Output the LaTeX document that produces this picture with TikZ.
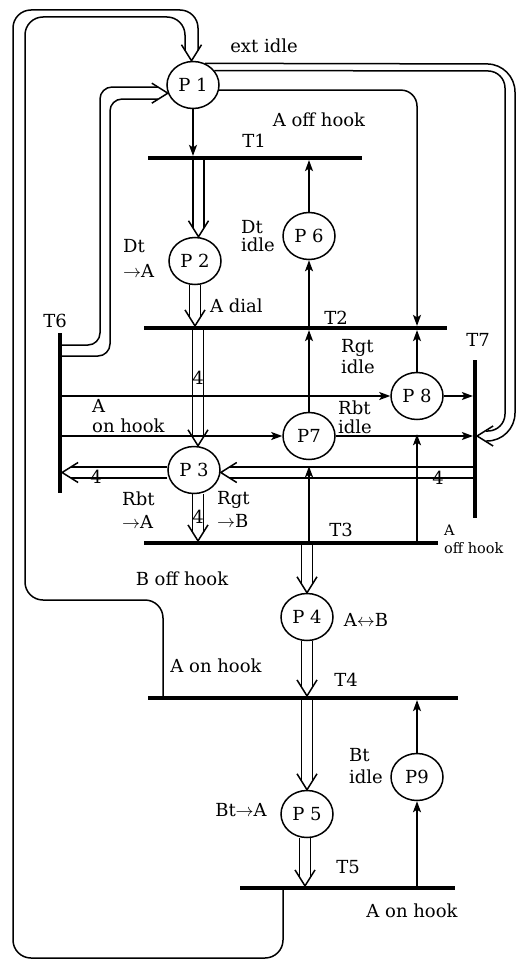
\documentclass[tikz,border=0pt]{standalone}
\usepackage{fix-cm}
\usepackage{fontspec}
\setmainfont{DejaVu Serif}
\usetikzlibrary{arrows.meta,shapes.geometric}
\newcommand\lblfont{\fontsize{18}{20}\selectfont}
\newcommand\smlfont{\fontsize{14.5}{18}\selectfont}
\newcommand\dbdown[2]{%
  \draw[ln] ([xshift=-5.5pt]#1) -- ([xshift=-5.5pt,yshift=9pt]#2);
  \draw[ln] ([xshift=5.5pt]#1) -- ([xshift=5.5pt,yshift=9pt]#2);
  \pic[rotate=-90] at (#2) {vhead};}
\newcommand\dbleft[2]{%
  \draw[ln] ([yshift=5.5pt]#1) -- ([yshift=5.5pt,xshift=9pt]#2);
  \draw[ln] ([yshift=-5.5pt]#1) -- ([yshift=-5.5pt,xshift=9pt]#2);
  \pic[rotate=180] at (#2) {vhead};}
\begin{document}
\begin{tikzpicture}[x=1pt,y=-1pt,
  ln/.style={line width=1.5pt},
  arr/.style={line width=1.5pt,-{Stealth[length=11pt,width=8pt,inset=2.5pt]}},
  place/.style={ellipse,draw,line width=1.5pt,minimum width=52pt,minimum height=47pt,inner sep=0pt,font=\lblfont},
  hbar/.style={fill=black,inner sep=0pt,minimum height=3.8pt},
  vbar/.style={fill=black,inner sep=0pt,minimum width=3.8pt},
  lbl/.style={inner sep=0pt,font=\lblfont},
  lblw/.style={lbl,anchor=west},
  twol/.style={inner sep=0pt,anchor=west,align=left,font=\fontsize{18}{#1}\selectfont},
  smalllbl/.style={inner sep=0pt,anchor=west,align=left,font=\smlfont},
  vhead/.pic={\draw[line width=1.5pt] (-16pt,10pt) -- (0pt,0pt) -- (-16pt,-10pt);}
]
\useasboundingbox (0,0) rectangle (522,960);

% places
\node[place] (P1) at (193,85) {P 1};
\node[place] (P2) at (195,261) {P 2};
\node[place] (P6) at (309,236) {P 6};
\node[place] (P8) at (417,396) {P 8};
\node[place] (P7) at (309,436) {P7};
\node[place] (P3) at (194,470) {P 3};
\node[place] (P4) at (307,617) {P 4};
\node[place] (P5) at (307,814) {P 5};
\node[place] (P9) at (417,777) {P9};

% transitions
\node[hbar,minimum width=214pt] (T1) at (255,158) {};
\node[hbar,minimum width=303pt] (T2) at (295.5,328) {};
\node[hbar,minimum width=294pt] (T3) at (291,543) {};
\node[hbar,minimum width=310pt] (T4) at (303,698) {};
\node[hbar,minimum width=215pt] (T5) at (347.5,888) {};
\node[vbar,minimum height=160pt] (T6) at (60,413) {};
\node[vbar,minimum height=158pt] (T7) at (475,439) {};

% helper coordinates
\coordinate (y345) at (0,345);
\coordinate (y356) at (0,356);
\coordinate (x283) at (283,0);
\coordinate (x163) at (163,0);

% single arrows
\draw[arr] (P1.south) -- (P1.south |- T1.north);
\draw[arr] (P6.north) -- (P6.north |- T1.south);
\draw[arr] (P6.south |- T2.north) -- (P6.south);
\draw[arr] (P7.north) -- (P7.north |- T2.south);
\draw[arr,rounded corners=16pt] (P1.-11) -- (P1.-11 -| P8.north) -- (P8.north |- T2.north);
\draw[arr] (P8.north) -- (P8.north |- T2.south);
\draw[arr] (P8.west -| T6.east) -- (P8.west);
\draw[arr] (P8.east) -- (P8.east -| T7.west);
\draw[arr] (P7.west -| T6.east) -- (P7.west);
\draw[arr] (P7.east) -- (P7.east -| T7.west);
\draw[arr,shorten >=6pt] (P7.south |- T3.north) -- (P7.south);
\draw[arr,shorten >=14pt] (P8.south |- T3.north) -- (P8.south);
\draw[arr] (P9.south |- T5.north) -- (P9.south);
\draw[arr] (P9.north) -- (P9.north |- T4.south);

% double arrows (straight)
\coordinate (d1e) at ([xshift=3.5pt]P2.north);
\coordinate (d1s) at (d1e |- T1.south);
\dbdown{d1s}{d1e}
\coordinate (d2s) at (P2.south);
\coordinate (d2e) at (P2.south |- T2.north);
\dbdown{d2s}{d2e}
\coordinate (d3e) at ([xshift=4pt]P3.north);
\coordinate (d3s) at (d3e |- T2.south);
\dbdown{d3s}{d3e}
\coordinate (d4s) at ([xshift=4pt]P3.south);
\coordinate (d4e) at (d4s |- T3.north);
\dbdown{d4s}{d4e}
\coordinate (d7e) at (P4.north);
\coordinate (d7s) at (P4.north |- T3.south);
\dbdown{d7s}{d7e}
\coordinate (d8s) at (P4.south);
\coordinate (d8e) at (P4.south |- T4.north);
\dbdown{d8s}{d8e}
\coordinate (d9e) at (P5.north);
\coordinate (d9s) at (P5.north |- T4.south);
\dbdown{d9s}{d9e}
\coordinate (d10s) at ([xshift=-2pt]P5.south);
\coordinate (d10e) at (d10s |- T5.north);
\dbdown{d10s}{d10e}
\coordinate (d5s) at ([yshift=-2.5pt]P3.west);
\coordinate (d5e) at (d5s -| T6.east);
\dbleft{d5s}{d5e}
\coordinate (d6e) at ([yshift=-2.5pt]P3.east);
\coordinate (d6s) at (d6e -| T7.west);
\dbleft{d6s}{d6e}

% loop T6 -> P1
\coordinate (p1l) at (P1.198);
\draw[ln,rounded corners=12pt] (T6.east |- y345) -- (100,345) -- (100,87) -- ([xshift=-10pt,yshift=6pt]p1l);
\draw[ln,rounded corners=12pt] (T6.east |- y356) -- (110,356) -- (110,99) -- ([xshift=-10pt,yshift=-6pt]p1l);
\pic at (p1l) {vhead};

% loop P1 -> T7
\coordinate (t7tip) at (P7.east -| T7.east);
\draw[ln,rounded corners=28pt] (P1.61) -- (515,64) -- (515,441) -- ([xshift=9pt,yshift=-5pt]t7tip);
\draw[ln,rounded corners=17pt] (P1.34) -- (505,71) -- (505,431) -- ([xshift=9pt,yshift=5pt]t7tip);
\pic[rotate=180] at (t7tip) {vhead};

% loops T5 -> P1 and T4 -> P1
\coordinate (p1t) at ([xshift=-1.5pt]P1.north);
\draw[ln,rounded corners=18pt] (T5.south -| x283) -- (283,958) -- (13,958) -- (13,10) -- (198,10) -- ([xshift=6.5pt,yshift=10pt]p1t);
\draw[ln,rounded corners=18pt] (T4.north -| x163) -- (163,600) -- (25,600) -- (25,17) -- (185,17) -- ([xshift=-6.5pt,yshift=10pt]p1t);
\pic[rotate=-90] at (p1t) {vhead};

% labels
\node[lbl] (lext) at (264,46) {ext idle};
\node[lbl] (laoff) at (319,120) {A off hook};
\node[lbl] (lT1) at (254,141) {T1};
\node[twol=18.5] (ldt6) at (241,236) {Dt\\idle};
\node[twol=25] (ldt2) at (123,258.5) {Dt\\$\rightarrow$A};
\node[lblw] (ldial) at (210,306) {A dial};
\node[lbl] (lT2) at (336,318) {T2};
\node[lbl] (lT6) at (55,321) {T6};
\node[twol=21] (lrgt) at (341,357) {Rgt\\idle};
\node[lbl] (lT7) at (478,340) {T7};
\node[twol=19.5] (lrbt) at (338,417.5) {Rbt\\idle};
\node[twol=20] (lonh) at (92,416) {A\\on hook};
\node[twol=22.5] (lrbt3) at (122,510) {Rbt\\$\rightarrow$A};
\node[twol=22.5] (lrgt3) at (217,509.5) {Rgt\\$\rightarrow$B};
\node[lbl] (lT3) at (341,530) {T3};
\node[smalllbl] (loffh) at (444,539) {A\\off hook};
\node[lbl] (lboff) at (182,579) {B off hook};
\node[lbl] (laob) at (366,620) {A$\leftrightarrow$B};
\node[lbl] (laon) at (216,666) {A on hook};
\node[lbl] (lT4) at (346,680) {T4};
\node[twol=22] (lbt) at (349,766) {Bt\\idle};
\node[lbl] (lbtA) at (241,810) {Bt$\rightarrow$A};
\node[lbl] (lT5) at (348,867) {T5};
\node[lbl] (laon2) at (412,911) {A on hook};
\node[lbl] (f1) at (198,378) {4};
\node[lbl] (f2) at (198,517) {4};
\node[lbl] (f3) at (96,477) {4};
\node[lbl] (f4) at (438,478) {4};
\end{tikzpicture}
\end{document}
